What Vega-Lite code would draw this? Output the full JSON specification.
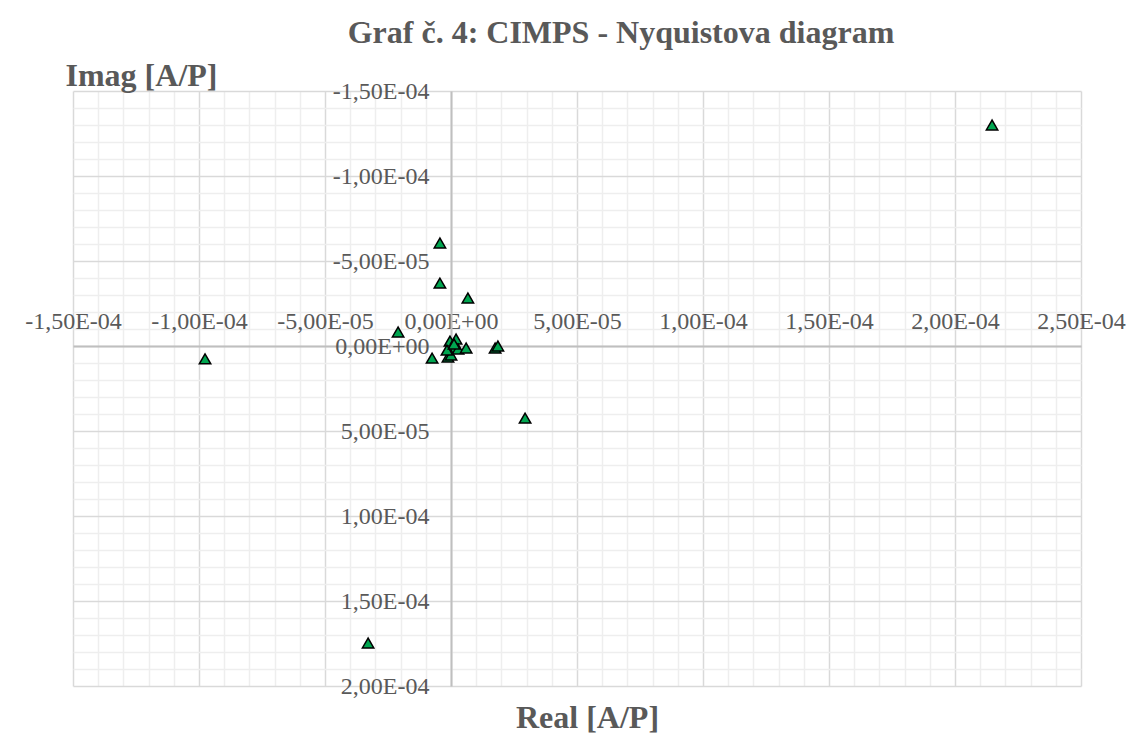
{
  "$schema": "https://vega.github.io/schema/vega-lite/v6.json",
  "width": 1008,
  "height": 595,
  "autosize": "none",
  "padding": {"left": 73, "top": 91, "right": 50, "bottom": 48},
  "background": "white",
  "title": {
    "text": "Graf č. 4: CIMPS - Nyquistova diagram",
    "font": "Liberation Serif",
    "fontSize": 32,
    "fontWeight": "bold",
    "color": "#595959",
    "anchor": "middle",
    "frame": "group",
    "dx": 44,
    "offset": 9
  },
  "config": {
    "view": {"stroke": null},
    "axis": {
      "labelFont": "Liberation Serif",
      "labelFontSize": 24,
      "labelColor": "#595959",
      "titleFont": "Liberation Serif",
      "titleFontSize": 32,
      "titleFontWeight": "bold",
      "titleColor": "#595959",
      "ticks": false,
      "domainColor": "#bfbfbf",
      "domainWidth": 2,
      "gridWidth": 1.5,
      "labelOverlap": false,
      "labelFlush": false
    }
  },
  "data": {
    "values": [
      {"real": 0.0002147, "imag": -0.000130},
      {"real": -0.0000976, "imag": 0.0000076},
      {"real": -0.0000329, "imag": 0.0001747},
      {"real": 0.0000294, "imag": 0.0000424},
      {"real": -0.0000044, "imag": -0.0000606},
      {"real": -0.0000044, "imag": -0.0000370},
      {"real": 0.0000067, "imag": -0.0000282},
      {"real": -0.0000210, "imag": -0.0000082},
      {"real": -0.0000075, "imag": 0.0000071},
      {"real": 0.0000175, "imag": 0.0000012},
      {"real": 0.0000186, "imag": 0.0000000},
      {"real": -0.0000004, "imag": -0.0000029},
      {"real": 0.0000020, "imag": -0.0000041},
      {"real": 0.0000004, "imag": 0.0000012},
      {"real": 0.0000028, "imag": 0.0000018},
      {"real": 0.0000060, "imag": 0.0000012},
      {"real": -0.0000012, "imag": 0.0000065},
      {"real": 0.0000000, "imag": 0.0000053},
      {"real": -0.0000016, "imag": 0.0000024},
      {"real": 0.0000012, "imag": -0.0000012}
    ]
  },
  "mark": {"type": "point", "shape": "triangle-up", "size": 130, "filled": true, "fill": "#00a650", "stroke": "#000000", "strokeWidth": 1.5, "opacity": 1},
  "encoding": {
    "x": {
      "field": "real",
      "type": "quantitative",
      "scale": {"domain": [-0.00015, 0.00025], "nice": false, "zero": false},
      "axis": {
        "orient": "top",
        "offset": -255,
        "values": [-0.00015, -0.00014, -0.00013, -0.00012, -0.00011, -0.0001, -0.00009, -0.00008, -0.00007, -0.00006, -0.00005, -0.00004, -0.00003, -0.00002, -0.00001, 0, 0.00001, 0.00002, 0.00003, 0.00004, 0.00005, 0.00006, 0.00007, 0.00008, 0.00009, 0.0001, 0.00011, 0.00012, 0.00013, 0.00014, 0.00015, 0.00016, 0.00017, 0.00018, 0.00019, 0.0002, 0.00021, 0.00022, 0.00023, 0.00024, 0.00025],
        "grid": true,
        "gridColor": {"condition": {"test": "abs(datum.value*20000 - round(datum.value*20000)) < 0.001", "value": "#d9d9d9"}, "value": "#eeeeee"},
        "labelExpr": "abs(datum.value*20000 - round(datum.value*20000)) < 0.001 ? replace(replace(replace(replace(replace(format(datum.value, '.2e'), '\u2212', '-'), '.', ','), 'e-4', 'E-04'), 'e-5', 'E-05'), 'e+0', 'E+00') : ''",
        "labelPadding": 13,
        "title": "Real [A/P]",
        "titleX": 514,
        "titleY": 381,
        "titleAlign": "center",
        "titleBaseline": "alphabetic",
        "titleAngle": 0
      }
    },
    "y": {
      "field": "imag",
      "type": "quantitative",
      "scale": {"domain": [-0.00015, 0.0002], "nice": false, "zero": false, "reverse": true},
      "axis": {
        "orient": "left",
        "offset": -378,
        "values": [-0.00015, -0.00014, -0.00013, -0.00012, -0.00011, -0.0001, -0.00009, -0.00008, -0.00007, -0.00006, -0.00005, -0.00004, -0.00003, -0.00002, -0.00001, 0, 0.00001, 0.00002, 0.00003, 0.00004, 0.00005, 0.00006, 0.00007, 0.00008, 0.00009, 0.0001, 0.00011, 0.00012, 0.00013, 0.00014, 0.00015, 0.00016, 0.00017, 0.00018, 0.00019, 0.0002],
        "grid": true,
        "gridColor": {"condition": {"test": "abs(datum.value*20000 - round(datum.value*20000)) < 0.001", "value": "#d9d9d9"}, "value": "#eeeeee"},
        "labelExpr": "abs(datum.value*20000 - round(datum.value*20000)) < 0.001 ? replace(replace(replace(replace(replace(format(datum.value, '.2e'), '\u2212', '-'), '.', ','), 'e-4', 'E-04'), 'e-5', 'E-05'), 'e+0', 'E+00') : ''",
        "labelPadding": 22,
        "labelBaseline": "middle",
        "title": "Imag [A/P]",
        "titleX": -386,
        "titleY": -6,
        "titleAlign": "left",
        "titleBaseline": "alphabetic",
        "titleAngle": 0
      }
    }
  }
}
